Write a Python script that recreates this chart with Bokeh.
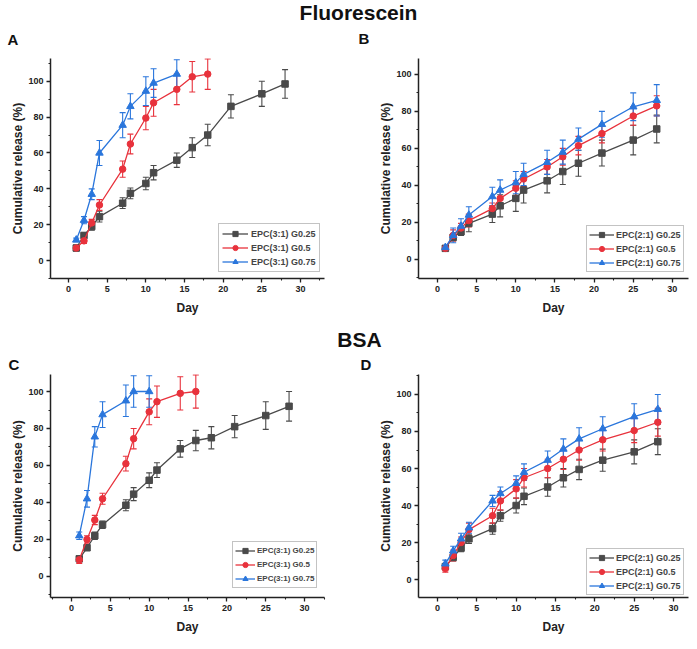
from bokeh.plotting import figure
from bokeh.layouts import column, row
from bokeh.models import (ColumnDataSource, Whisker, TeeHead, SingleIntervalTicker, Range1d)
from bokeh.core.properties import value
from bokeh.embed import file_html
from bokeh.resources import INLINE

FONT = "Liberation Sans"
GRAY = "#4a4a4a"
RED = "#e8323c"
BLUE = "#2a76dc"

# ---------------- data ----------------
days_all = [1, 2, 3, 4, 7, 8, 10, 11, 14, 16, 18, 21, 25, 28]

# Panel A: Fluorescein, EPC(3:1)
a_gray_x = days_all
a_gray_y = [7, 14, 19, 24.5, 32, 37.5, 43, 49, 56, 63, 70, 86, 93, 98.5]
a_gray_e = [1.5, 1.5, 2, 3, 3, 3, 3.5, 4, 4, 5.5, 6, 6.5, 7, 8]
a_red_x = [1, 2, 3, 4, 7, 8, 10, 11, 14, 16, 18]
a_red_y = [7, 11, 21, 31, 51, 65, 79.5, 88, 95.5, 102.5, 104]
a_red_e = [1, 1.5, 2, 3, 4.5, 5.5, 6.5, 7.5, 8.5, 8.5, 8.5]
a_blue_x = [1, 2, 3, 4, 7, 8, 10, 11, 14]
a_blue_y = [11.5, 22.5, 37, 60, 75.5, 86, 94.5, 99, 104]
a_blue_e = [1, 2, 3, 7, 7, 7, 8, 8, 8]

# Panel B: Fluorescein, EPC(2:1)
b_gray_y = [6, 12, 15, 19.5, 24.5, 29, 33, 37.5, 42.5, 47.5, 52, 57.5, 64.5, 70.5]
b_gray_e = [1, 2, 2, 4.5, 4.5, 6, 7, 7, 6.5, 7, 7, 7, 8, 7.5]
b_red_y = [6, 13, 17, 21, 27.5, 33, 38.5, 43.5, 50, 55.5, 61.5, 68, 77.5, 83]
b_red_e = [1, 3, 2.5, 3.5, 3, 4, 4, 4, 4, 4.5, 5, 5, 5, 5.5]
b_blue_y = [6.5, 13, 18, 24, 34, 37.5, 41.5, 46, 52.5, 58, 65, 73, 82.5, 86]
b_blue_e = [1, 4, 4, 4.5, 5, 5.5, 6, 6, 6.5, 6.5, 6, 7, 7.5, 8.5]

# Panel C: BSA, EPC(3:1)
c_gray_y = [9.5, 15.5, 22, 28, 38.5, 44.5, 52, 57.5, 69, 73.5, 75, 81, 87, 92]
c_gray_e = [1, 1.5, 2, 2, 3, 3.5, 4, 4, 4.5, 5.5, 6, 6, 7.5, 8]
c_red_x = [1, 2, 3, 4, 7, 8, 10, 11, 14, 16]
c_red_y = [9, 20, 30.5, 42, 61, 74.5, 89, 94.5, 99, 100]
c_red_e = [2, 2, 2.5, 3, 4, 5.5, 7, 8.5, 9, 9]
c_blue_x = [1, 2, 3, 4, 7, 8, 10]
c_blue_y = [22, 42, 75.5, 87.5, 95, 100, 100]
c_blue_e = [2, 4.5, 5.5, 7, 8.5, 8.5, 8.5]

# Panel D: BSA, EPC(2:1)
d_gray_y = [7, 12, 17, 22, 27.5, 34.5, 40, 45, 50, 55, 59.5, 64.5, 69, 74.5]
d_gray_e = [1.5, 2, 2, 2.5, 3, 3, 4, 4.5, 5, 5, 5.5, 6, 6.5, 7]
d_red_y = [6, 13, 20, 27, 34.5, 42.5, 49, 55, 60, 65, 70, 75.5, 80.5, 85]
d_red_e = [2, 3, 3, 3.5, 4, 5, 5, 5, 5, 5.5, 5.5, 6, 6.5, 7.5]
d_blue_y = [8.5, 15.5, 22, 28, 42.5, 46.5, 52, 58, 64.5, 70.5, 76, 81.5, 88, 92]
d_blue_e = [2, 2.5, 3, 3, 3, 3.5, 4, 4.5, 5, 5.5, 6, 6.5, 7, 8]

labels_31 = ["EPC(3:1) G0.25", "EPC(3:1) G0.5", "EPC(3:1) G0.75"]
labels_21 = ["EPC(2:1) G0.25", "EPC(2:1) G0.5", "EPC(2:1) G0.75"]
x_label = "Day"
y_label = "Cumulative release (%)"
section_titles = ["Fluorescein", "BSA"]
panel_letters = ["A", "B", "C", "D"]


def add_series(p, xs, ys, es, color, marker, label):
    src = ColumnDataSource(dict(x=xs, y=ys,
                                upper=[v + e for v, e in zip(ys, es)],
                                lower=[v - e for v, e in zip(ys, es)]))
    w = Whisker(base="x", upper="upper", lower="lower", source=src,
                line_color=color, line_width=1.1,
                upper_head=TeeHead(size=6, line_color=color, line_width=1.1),
                lower_head=TeeHead(size=6, line_color=color, line_width=1.1))
    p.add_layout(w)
    p.line("x", "y", source=src, line_color=color, line_width=1.3, legend_label=label)
    p.scatter("x", "y", source=src, marker=marker,
              size=6.5 if marker != "triangle" else 7.5,
              fill_color=color, line_color=color, legend_label=label)


def make_panel(width, height, borders, xr, yr, series, labels, legend_font,
               legend_loc, glyph_w, pad, standoff):
    left, right, top, bottom = borders
    p = figure(width=width, height=height, toolbar_location=None, output_backend="svg",
               x_range=Range1d(*xr), y_range=Range1d(*yr),
               min_border_left=left, min_border_right=right,
               min_border_top=top, min_border_bottom=bottom)
    p.outline_line_color = None
    p.xgrid.visible = False
    p.ygrid.visible = False
    p.xaxis.ticker = SingleIntervalTicker(interval=5, num_minor_ticks=2)
    p.yaxis.ticker = SingleIntervalTicker(interval=20, num_minor_ticks=2)
    for ax in (p.xaxis[0], p.yaxis[0]):
        ax.axis_line_width = 1.5
        ax.axis_line_color = "#222222"
        ax.major_tick_line_width = 1.3
        ax.minor_tick_line_width = 1.1
        ax.major_tick_line_color = "#222222"
        ax.minor_tick_line_color = "#222222"
        ax.major_tick_in = 0
        ax.major_tick_out = 4
        ax.minor_tick_in = 0
        ax.minor_tick_out = 2
        ax.major_label_text_font = FONT
        ax.major_label_text_font_style = "bold"
        ax.major_label_text_font_size = "9px"
        ax.major_label_text_color = "#222222"
        ax.major_label_standoff = 3
        ax.axis_label_text_font = FONT
        ax.axis_label_text_font_style = "bold"
        ax.axis_label_text_font_size = "12px"
        ax.axis_label_text_color = "#222222"
    p.xaxis.axis_label_standoff = 6
    p.yaxis.axis_label_standoff = 0
    p.xaxis.axis_label = x_label
    p.yaxis.axis_label = y_label
    colors = [GRAY, RED, BLUE]
    markers = ["square", "circle", "triangle"]
    for (xs, ys, es), c, m, lab in zip(series, colors, markers, labels):
        add_series(p, xs, ys, es, c, m, lab)
    lg = p.legend[0]
    lg.location = legend_loc
    lg.margin = 0
    lg.padding = pad
    lg.spacing = 1
    lg.glyph_width = glyph_w
    lg.glyph_height = 13
    lg.label_height = 13
    lg.label_standoff = standoff
    lg.label_text_font = FONT
    lg.label_text_font_style = "bold"
    lg.label_text_font_size = legend_font
    lg.border_line_color = "#888888"
    lg.border_line_width = 1
    lg.background_fill_alpha = 1
    return p


# column 1 spans x 0..348, column 2 spans 348..697
pA = make_panel(348, 270, (50, 24, 10, 40), (-2.33, 33.1), (-10.0, 112.7),
                [(a_gray_x, a_gray_y, a_gray_e), (a_red_x, a_red_y, a_red_e),
                 (a_blue_x, a_blue_y, a_blue_e)], labels_31, "9px", (168, 6), 26, 3, 3)
pB = make_panel(349, 270, (70, 9, 10, 40), (-2.43, 32.06), (-10.3, 108.6),
                [(days_all, b_gray_y, b_gray_e), (days_all, b_red_y, b_red_e),
                 (days_all, b_blue_y, b_blue_e)], labels_21, "9px", (168, 6), 25, 2, 2)
pC = make_panel(348, 277, (50, 24, 2, 52), (-2.7, 32.56), (-11.4, 109.2),
                [(days_all, c_gray_y, c_gray_e), (c_red_x, c_red_y, c_red_e),
                 (c_blue_x, c_blue_y, c_blue_e)], labels_31, "8px", (182, 9), 20, 2, 2)
pD = make_panel(349, 277, (70, 9, 2, 52), (-2.41, 31.9), (-9.7, 110.8),
                [(days_all, d_gray_y, d_gray_e), (days_all, d_red_y, d_red_e),
                 (days_all, d_blue_y, d_blue_e)], labels_21, "9px", (168, 2), 25, 2, 2)


def header(height, title, tx, ty, baseline, letters):
    h = figure(width=697, height=height, toolbar_location=None, output_backend="svg",
               x_range=Range1d(0, 697), y_range=Range1d(0, height),
               x_axis_type=None, y_axis_type=None, min_border=0)
    h.outline_line_color = None
    h.xgrid.visible = False
    h.ygrid.visible = False
    h.text(x=[tx], y=[ty], text=[title], text_font=value(FONT), text_font_style="bold",
           text_font_size="21px", text_align="center", text_baseline=baseline,
           text_color="#111111")
    lx = [l[1] for l in letters]
    ly = [l[2] for l in letters]
    lt = [l[0] for l in letters]
    h.text(x=lx, y=ly, text=lt, text_font=value(FONT), text_font_style="bold",
           text_font_size="15px", text_align="left", text_baseline="bottom",
           text_color="#111111")
    return h


h1 = header(48, section_titles[0], 358, 48, "top",
            [(panel_letters[0], 7, 0.5), (panel_letters[1], 358, 1.5)])
h2 = header(54, section_titles[1], 359, 33, "middle",
            [(panel_letters[2], 8, 0), (panel_letters[3], 360, 0)])

layout = column(h1, row(pA, pB, spacing=0), h2, row(pC, pD, spacing=0), spacing=0)

open("out.html", "w").write(file_html(layout, INLINE))
